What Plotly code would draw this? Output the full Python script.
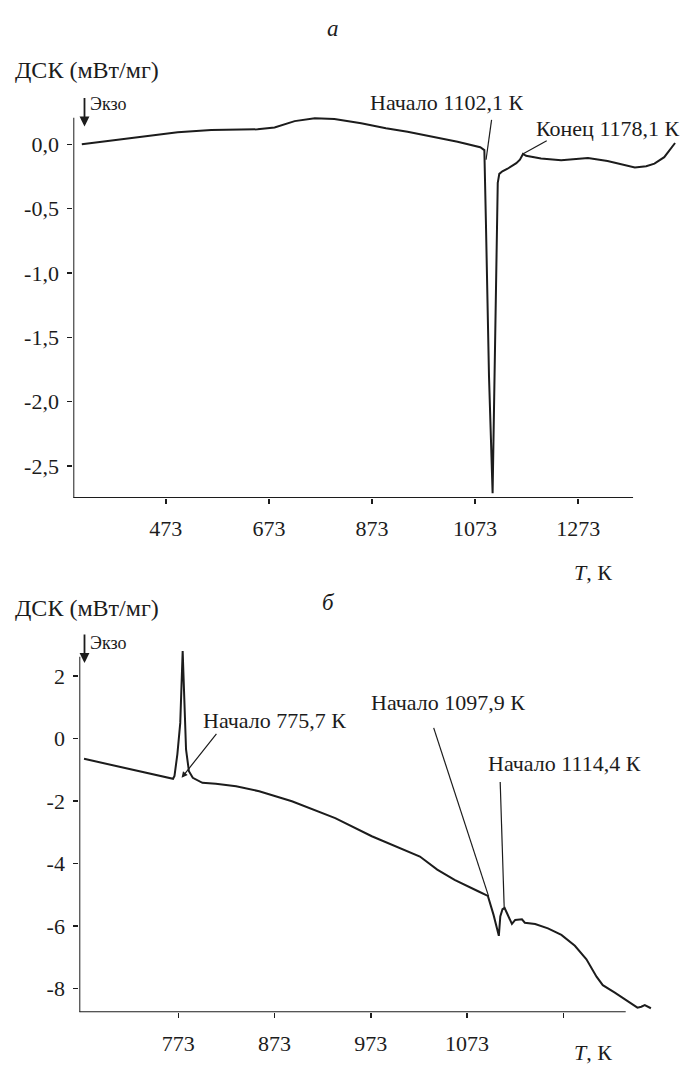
import plotly.graph_objects as go

W, H = 684, 1065
INK = "#1c1c1c"
FONT = "Liberation Serif, Times New Roman, serif"

# ---------------- panel a (top) ----------------
T_a = [310, 399, 496, 561, 651, 684, 723, 762, 800, 852, 900, 942, 990, 1039,
       1083, 1091, 1094, 1100, 1107, 1111, 1115, 1117, 1120, 1126, 1136, 1153,
       1160, 1166, 1172, 1185, 1201, 1240, 1270, 1292, 1330, 1360, 1383, 1405,
       1421, 1440, 1461]
DSC_a = [0.0, 0.047, 0.093, 0.11, 0.116, 0.13, 0.18, 0.203, 0.196, 0.163, 0.125,
         0.098, 0.06, 0.02, -0.023, -0.045, -0.6, -1.8, -2.71, -1.8, -0.6, -0.3,
         -0.23, -0.21, -0.19, -0.147, -0.12, -0.075, -0.09, -0.1, -0.11, -0.124,
         -0.115, -0.106, -0.13, -0.16, -0.18, -0.17, -0.15, -0.1, 0.01]

xticks_a = [473, 673, 873, 1073, 1273]
yticks_a = [0.0, -0.5, -1.0, -1.5, -2.0, -2.5]
yticklabels_a = ["0,0", "-0,5", "-1,0", "-1,5", "-2,0", "-2,5"]

# ---------------- panel b (bottom) ----------------
T_b = [675, 700, 730, 767.5, 769, 772, 775, 776.5, 777.5, 778.5, 779.5, 781,
       784, 788, 798, 812, 833, 857, 891, 936, 974, 996, 1024, 1042, 1060, 1085,
       1094.6, 1100.5, 1106, 1107.5, 1109.8, 1112, 1116, 1119.6, 1123, 1130,
       1133, 1143.7, 1157, 1171, 1185, 1197, 1207.5, 1214, 1226.5, 1238.6, 1250,
       1254, 1257.6, 1264]
DSC_b = [-0.65, -0.82, -1.02, -1.29, -1.2, -0.5, 0.5, 1.6, 2.8, 1.9, 1.0, -0.35,
         -1.05, -1.26, -1.42, -1.45, -1.53, -1.69, -2.01, -2.55, -3.13, -3.42,
         -3.78, -4.2, -4.53, -4.9, -5.04, -5.65, -6.32, -5.7, -5.47, -5.43, -5.7,
         -5.94, -5.81, -5.79, -5.9, -5.94, -6.08, -6.29, -6.64, -7.07, -7.63,
         -7.9, -8.14, -8.38, -8.62, -8.59, -8.54, -8.64]

xticks_b = [773, 873, 973, 1073, 1173]
xticklabels_b = ["773", "873", "973", "1073", ""]
yticks_b = [2, 0, -2, -4, -6, -8]
yticklabels_b = ["2", "0", "-2", "-4", "-6", "-8"]

# annotation labels
labels_a = ["Начало 1102,1 К", "Конец 1178,1 К"]
labels_b = ["Начало 775,7 К", "Начало 1097,9 К", "Начало 1114,4 К"]


def px(x):
    return x / W


def py(y):
    return 1 - y / H


fig = go.Figure()
fig.add_trace(go.Scatter(x=T_a, y=DSC_a, mode="lines", xaxis="x", yaxis="y",
                         line=dict(color=INK, width=2), showlegend=False,
                         hoverinfo="skip"))
fig.add_trace(go.Scatter(x=T_b, y=DSC_b, mode="lines", xaxis="x2", yaxis="y2",
                         line=dict(color=INK, width=2), showlegend=False,
                         hoverinfo="skip"))

tickfont = dict(family=FONT, size=22, color=INK)
common = dict(showgrid=False, zeroline=False, showline=False, ticks="outside",
              ticklen=5, tickwidth=1.5, tickcolor=INK, tickfont=tickfont)

XA = [293.5, 1470]
YA = [-2.748, 0.215]
XB = [670.1, 1275]
YB = [-8.77, 2.95]

fig.update_layout(
    width=W, height=H, autosize=False,
    margin=dict(l=0, r=0, t=0, b=0),
    paper_bgcolor="white", plot_bgcolor="white",
    xaxis=dict(domain=[73.3 / W, 679.7 / W], range=XA, anchor="y",
               tickvals=xticks_a, ticktext=[str(v) for v in xticks_a],
               ticklabelstandoff=6, **common),
    yaxis=dict(domain=[py(498), py(116.6)], range=YA, anchor="x",
               tickvals=yticks_a, ticktext=yticklabels_a,
               ticklabelstandoff=4, **common),
    xaxis2=dict(domain=[79.3 / W, 661.5 / W], range=XB, anchor="y2",
                tickvals=xticks_b, ticktext=xticklabels_b,
                ticklabelstandoff=6, **common),
    yaxis2=dict(domain=[py(1012.3), py(646.4)], range=YB, anchor="x2",
                tickvals=yticks_b, ticktext=yticklabels_b,
                ticklabelstandoff=4, **common),
)

# axis lines (drawn as in the figure: x-axis stops before the curve ends)
axline = dict(color=INK, width=2)
fig.add_shape(type="line", xref="x", yref="y", x0=XA[0], x1=1379.5, y0=YA[0], y1=YA[0], line=axline)
fig.add_shape(type="line", xref="x", yref="y", x0=XA[0], x1=XA[0], y0=YA[0], y1=0.207, line=axline)
fig.add_shape(type="line", xref="x2", yref="y2", x0=XB[0], x1=1237.8, y0=YB[0], y1=YB[0], line=axline)
fig.add_shape(type="line", xref="x2", yref="y2", x0=XB[0], x1=XB[0], y0=YB[0], y1=2.62, line=axline)

# leader lines
lead = dict(color=INK, width=1.2)
fig.add_shape(type="line", xref="x", yref="y", x0=1105, y0=0.19, x1=1094.3, y1=-0.12, line=lead)
fig.add_shape(type="line", xref="x", yref="y", x0=1212, y0=0.028, x1=1165.5, y1=-0.075, line=lead)
fig.add_shape(type="line", xref="x2", yref="y2", x0=1038.3, y0=0.34, x1=1095.3, y1=-5.05, line=lead)
fig.add_shape(type="line", xref="x2", yref="y2", x0=1107.4, y0=-1.39, x1=1111.6, y1=-5.45, line=lead)
fig.add_annotation(x=776.4, y=-1.26, xref="x2", yref="y2", ax=813.8, ay=0.2,
                   axref="x2", ayref="y2", text="", showarrow=True,
                   arrowhead=2, arrowsize=1, arrowwidth=1.2, arrowcolor=INK)

# Exo arrows
for ytip in (126.5, 663.0):
    fig.add_annotation(x=px(84.5), y=py(ytip), xref="paper", yref="paper",
                       ax=0, ay=-30, text="", showarrow=True, arrowhead=2,
                       arrowsize=1.1, arrowwidth=1.8, arrowcolor=INK)


def label(text, x, y, size=22, xanchor="center", italic=False):
    fig.add_annotation(x=px(x), y=py(y), xref="paper", yref="paper",
                       text=f"<i>{text}</i>" if italic else text,
                       showarrow=False, xanchor=xanchor, yanchor="middle",
                       font=dict(family=FONT, size=size, color=INK))


# panel a texts
label("а", 333, 28, size=23, italic=True)
label("ДСК (мВт/мг)", 13, 70, size=24, xanchor="left")
label("Экзо", 88, 104, size=18, xanchor="left")
label(labels_a[0], 446, 102.5)
label(labels_a[1], 608, 128)
label("<i>T</i>, К", 593, 572)

# panel b texts
label("б", 328, 602, size=23, italic=True)
label("ДСК (мВт/мг)", 13, 608, size=24, xanchor="left")
label("Экзо", 88, 643, size=18, xanchor="left")
label(labels_b[0], 201, 720, xanchor="left")
label(labels_b[1], 527, 702, xanchor="right")
label(labels_b[2], 564, 763)
label("<i>T</i>, К", 593, 1052)

fig.write_html(
    "out.html",
    config={"displayModeBar": False, "staticPlot": True},
    post_script="document.body.style.margin='0';document.body.style.padding='0';"
                "document.body.style.overflow='hidden';",
)
